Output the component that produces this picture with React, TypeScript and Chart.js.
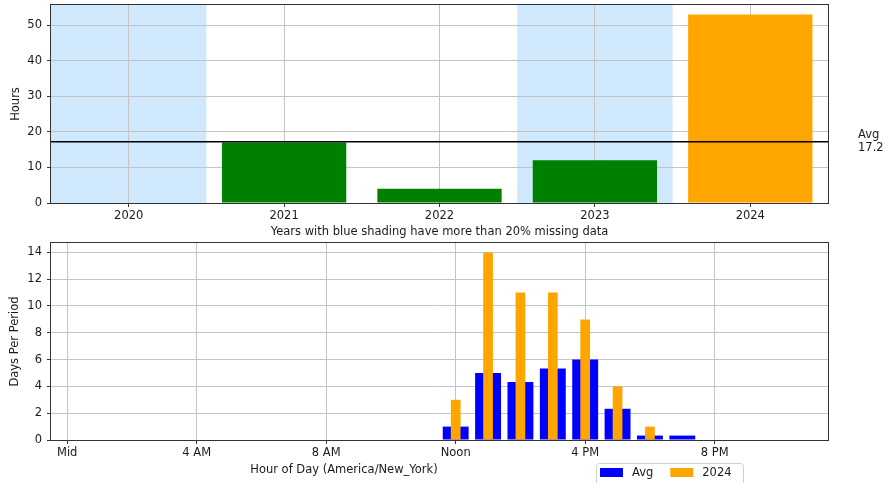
import React, { useEffect, useRef } from 'react';
import { Chart, registerables } from 'chart.js';

Chart.register(...registerables);

const FONT = "'DejaVu Sans', sans-serif";
const FS = 11.5;
const TEXT = '#1a1a1a';
const GRID = '#c4c4c4';
const FRAME = '#333';
const GREEN = '#008000';
const ORANGE = '#FFA500';
const BLUE = '#0000FF';
const SHADE = '#cfe8fc';

// ---- top chart data ----
const YEARS = ['2020', '2021', '2022', '2023', '2024'];
const YEAR_HOURS = [0, 17, 4, 12, 53];
const MISSING_YEARS = ['2020', '2023'];
const CURRENT_YEAR = '2024';
const TOP_Y_MAX = 55.65;
const TOP_Y_TITLE = 'Hours';
const TOP_X_TITLE = 'Years with blue shading have more than 20% missing data';

// ---- bottom chart data ----
const HOURS = [0, 1, 2, 3, 4, 5, 6, 7, 8, 9, 10, 11, 12, 13, 14, 15, 16, 17, 18, 19, 20, 21, 22, 23];
const AVG_PER_HOUR = [0, 0, 0, 0, 0, 0, 0, 0, 0, 0, 0, 0, 1, 5, 4.33, 5.33, 6, 2.33, 0.33, 0.33, 0, 0, 0, 0];
const CURRENT_PER_HOUR = [0, 0, 0, 0, 0, 0, 0, 0, 0, 0, 0, 0, 3, 14, 11, 11, 9, 4, 1, 0, 0, 0, 0, 0];
const HOUR_TICKS = [0, 4, 8, 12, 16, 20];
const HOUR_TICK_LABELS = ['Mid', '4 AM', '8 AM', 'Noon', '4 PM', '8 PM'];
const BOTTOM_Y_MAX = 14.7;
const BOTTOM_Y_TITLE = 'Days Per Period';
const BOTTOM_X_TITLE = 'Hour of Day (America/New_York)';
const AVG_LABEL = 'Avg';

Chart.defaults.font.family = FONT;
Chart.defaults.font.size = FS;
Chart.defaults.color = TEXT;

const framePlugin = {
  id: 'frame',
  afterDraw(chart: any) {
    const { ctx, chartArea: a } = chart;
    ctx.save();
    ctx.strokeStyle = FRAME;
    ctx.lineWidth = 1;
    ctx.strokeRect(Math.round(a.left) - 0.5, Math.round(a.top) - 0.5, Math.round(a.right - a.left) + 1, Math.round(a.bottom - a.top) + 1);
    ctx.restore();
  },
};

export default function App() {
  const topRef = useRef<HTMLCanvasElement>(null);
  const botRef = useRef<HTMLCanvasElement>(null);

  useEffect(() => {
    const avg = YEAR_HOURS.reduce((s, v) => s + v, 0) / YEAR_HOURS.length;

    const shadePlugin = {
      id: 'shade',
      beforeDraw(chart: any) {
        const { ctx, chartArea: a, scales } = chart;
        const xs = scales.x;
        const half = (xs.getPixelForValue(1) - xs.getPixelForValue(0)) / 2;
        ctx.save();
        ctx.fillStyle = SHADE;
        MISSING_YEARS.forEach((y) => {
          const i = YEARS.indexOf(y);
          const c = xs.getPixelForValue(i);
          ctx.fillRect(c - half, a.top, half * 2, a.bottom - a.top);
        });
        ctx.restore();
      },
    };

    const avgPlugin = {
      id: 'avgline',
      afterDatasetsDraw(chart: any) {
        const { ctx, chartArea: a, scales } = chart;
        const y = scales.y.getPixelForValue(avg);
        ctx.save();
        ctx.strokeStyle = '#000';
        ctx.lineWidth = 1.5;
        ctx.beginPath();
        ctx.moveTo(a.left, y);
        ctx.lineTo(a.right, y);
        ctx.stroke();
        ctx.fillStyle = TEXT;
        ctx.font = `${FS}px ${FONT}`;
        ctx.textAlign = 'left';
        ctx.textBaseline = 'middle';
        ctx.fillText(AVG_LABEL, a.right + 30, y - 7);
        ctx.fillText(avg.toFixed(1), a.right + 30, y + 6);
        ctx.restore();
      },
    };

    const topTitlePlugin = {
      id: 'topTitle',
      afterDraw(chart: any) {
        const { ctx, chartArea: a } = chart;
        ctx.save();
        ctx.fillStyle = TEXT;
        ctx.font = `${FS}px ${FONT}`;
        ctx.textAlign = 'center';
        ctx.textBaseline = 'middle';
        ctx.fillText(TOP_X_TITLE, (a.left + a.right) / 2, a.bottom + 29);
        ctx.restore();
      },
    };

    const botTextPlugin = {
      id: 'botText',
      afterDraw(chart: any) {
        const { ctx, chartArea: a } = chart;
        ctx.save();
        ctx.fillStyle = TEXT;
        ctx.font = `${FS}px ${FONT}`;
        ctx.textAlign = 'center';
        ctx.textBaseline = 'middle';
        ctx.fillText(BOTTOM_X_TITLE, a.left + 293, a.bottom + 30);
        // legend
        const lx = a.left + 545;
        const ly = a.bottom + 23;
        ctx.fillStyle = 'rgba(255,255,255,0.9)';
        ctx.strokeStyle = '#d0d0d0';
        ctx.lineWidth = 1;
        ctx.beginPath();
        (ctx as any).roundRect(lx + 0.5, ly + 0.5, 147, 30, 3);
        ctx.fill();
        ctx.stroke();
        const ds = chart.data.datasets.slice().sort((p: any, q: any) => p.legendIndex - q.legendIndex);
        let x = lx + 4;
        ds.forEach((d: any) => {
          ctx.fillStyle = d.backgroundColor;
          ctx.fillRect(x, ly + 5, 23, 9);
          ctx.fillStyle = TEXT;
          ctx.textAlign = 'left';
          ctx.fillText(d.label, x + 32, ly + 10);
          x = x + 32 + ctx.measureText(d.label).width + 17;
        });
        ctx.restore();
      },
    };

    const gridOpts = { color: GRID, lineWidth: 1, tickColor: FRAME, tickLength: 4, tickWidth: 1 };

    const top = new Chart(topRef.current!, {
      type: 'bar',
      data: {
        labels: YEARS,
        datasets: [
          {
            label: TOP_Y_TITLE,
            data: YEAR_HOURS,
            backgroundColor: YEARS.map((y) => (y === CURRENT_YEAR ? ORANGE : GREEN)),
            barPercentage: 0.8,
            categoryPercentage: 1,
          },
        ],
      },
      options: {
        animation: false,
        responsive: false,
        devicePixelRatio: 1,
        events: [],
        layout: { padding: { left: 0, right: 56, top: 5, bottom: 0 }, autoPadding: false },
        plugins: { legend: { display: false }, tooltip: { enabled: false } },
        scales: {
          x: {
            type: 'category',
            offset: true,
            grid: { ...gridOpts, offset: false },
            border: { display: false },
            ticks: { padding: 2, color: TEXT, maxRotation: 0 },
            afterFit: (s: any) => {
              s.height = 37;
              s.paddingLeft = 0;
              s.paddingRight = 0;
            },
          },
          y: {
            min: 0,
            max: TOP_Y_MAX,
            grid: gridOpts,
            border: { display: false },
            ticks: { stepSize: 10, includeBounds: false, padding: 5, color: TEXT },
            title: { display: true, text: TOP_Y_TITLE, color: TEXT, padding: { top: 9, bottom: 0 } },
            afterFit: (s: any) => {
              s.width = 51;
              s.paddingTop = 0;
              s.paddingBottom = 0;
            },
          },
        },
      } as any,
      plugins: [shadePlugin, avgPlugin, framePlugin, topTitlePlugin],
    });

    const bot = new Chart(botRef.current!, {
      type: 'bar',
      data: {
        datasets: [
          {
            label: AVG_LABEL,
            data: HOURS.map((h, i) => ({ x: h, y: AVG_PER_HOUR[i] })),
            backgroundColor: BLUE,
            grouped: false,
            barPercentage: 0.8,
            categoryPercentage: 1,
            order: 1,
            legendIndex: 0,
          },
          {
            label: CURRENT_YEAR,
            data: HOURS.map((h, i) => ({ x: h, y: CURRENT_PER_HOUR[i] })),
            backgroundColor: ORANGE,
            grouped: false,
            barPercentage: 0.3,
            categoryPercentage: 1,
            order: 0,
            legendIndex: 1,
          },
        ] as any,
      },
      options: {
        animation: false,
        responsive: false,
        devicePixelRatio: 1,
        events: [],
        layout: { padding: { left: 0, right: 56, top: 3, bottom: 0 }, autoPadding: false },
        plugins: { legend: { display: false }, tooltip: { enabled: false } },
        scales: {
          x: {
            type: 'linear',
            min: -0.5,
            max: 23.5,
            offset: false,
            grid: { ...gridOpts, offset: false },
            border: { display: false },
            afterBuildTicks: (s: any) => {
              s.ticks = HOUR_TICKS.map((v) => ({ value: v }));
            },
            ticks: {
              padding: 2,
              color: TEXT,
              maxRotation: 0,
              autoSkip: false,
              callback: (v: any) => {
                const i = HOUR_TICKS.indexOf(Number(v));
                return i >= 0 ? HOUR_TICK_LABELS[i] : '';
              },
            },
            afterFit: (s: any) => {
              s.height = 43;
              s.paddingLeft = 0;
              s.paddingRight = 0;
            },
          },
          y: {
            min: 0,
            max: BOTTOM_Y_MAX,
            grid: gridOpts,
            border: { display: false },
            ticks: { stepSize: 2, includeBounds: false, padding: 5, color: TEXT },
            title: { display: true, text: BOTTOM_Y_TITLE, color: TEXT, padding: { top: 8, bottom: 0 } },
            afterFit: (s: any) => {
              s.width = 51;
              s.paddingTop = 0;
              s.paddingBottom = 0;
            },
          },
        },
      } as any,
      plugins: [framePlugin, botTextPlugin],
    });

    return () => {
      top.destroy();
      bot.destroy();
    };
  }, []);

  return (
    <div style={{ position: 'absolute', left: 0, top: 0, width: 884, height: 483, background: '#fff', overflow: 'hidden' }}>
      <canvas ref={topRef} width={884} height={240} style={{ display: 'block', width: 884, height: 240 }} />
      <canvas ref={botRef} width={884} height={243} style={{ display: 'block', width: 884, height: 243 }} />
    </div>
  );
}
